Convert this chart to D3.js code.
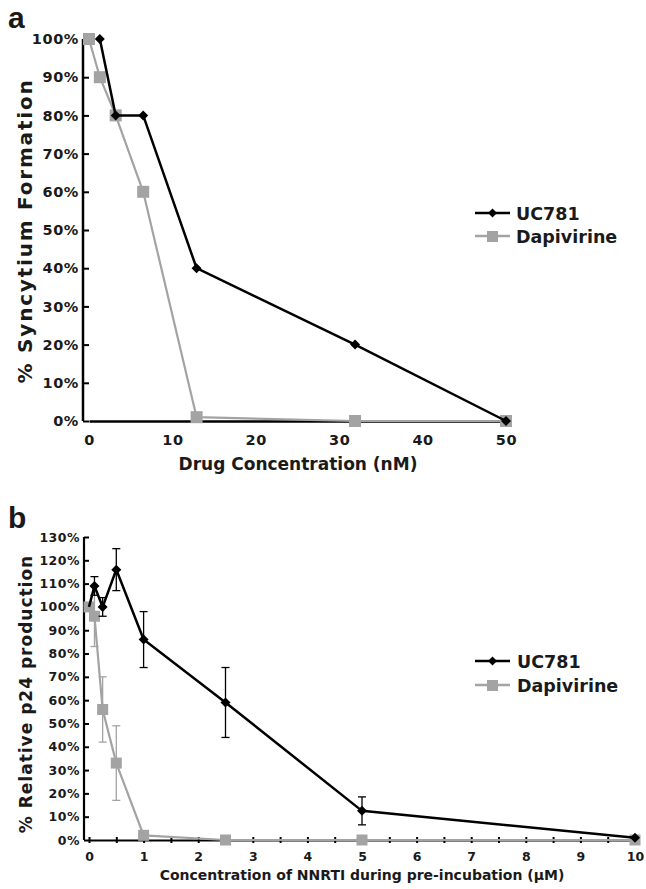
<!DOCTYPE html>
<html><head><meta charset="utf-8">
<script src="https://cdn.jsdelivr.net/npm/d3@7/dist/d3.min.js"></script>
<style>body{margin:0;background:#fff}svg{display:block}text{font-family:"DejaVu Sans",Verdana,sans-serif;font-weight:bold;fill:#1a1a1a}</style>
</head><body><svg id="c" width="646" height="889"></svg>
<script>
// Panel a data
const aX = [0, 1.3, 3.2, 6.5, 12.9, 31.9, 50];
const aUC781 = [null, 100, 80, 80, 40, 20, 0];
const aDapivirine = [100, 90, 80, 60, 1, 0, 0];
const aXTicks = [0, 10, 20, 30, 40, 50];
const aYTicks = [0, 10, 20, 30, 40, 50, 60, 70, 80, 90, 100];

// Panel b data
const bX = [0, 0.1, 0.25, 0.5, 1, 2.5, 5, 10];
const bUC781 = [100, 109, 100, 116, 86, 59, 12.5, 1];
const bUC781Err = [0, 4, 4, 9, 12, 15, 6, 0];
const bDapivirine = [100, 96, 56, 33, 2, 0, 0, 0];
const bDapivirineErr = [0, 13, 14, 16, 0, 0, 0, 0];
const bXTicks = [0, 1, 2, 3, 4, 5, 6, 7, 8, 9, 10];
const bYTicks = [0, 10, 20, 30, 40, 50, 60, 70, 80, 90, 100, 110, 120, 130];

const svg = d3.select("#c");
const BLACK = "#000", GRAY = "#a3a3a3";
const pct = d => d + "%";
const diamond = d3.symbol(d3.symbolSquare, 50);

// ---------- Panel a ----------
{
  const x = d3.scaleLinear().domain([0, 50]).range([89, 506]);
  const y = d3.scaleLinear().domain([0, 100]).range([421, 39]);
  const g = svg.append("g");
  svg.append("text").attr("x", 8).attr("y", 28).style("font-family","Liberation Sans, Arial, sans-serif").style("font-size","30px").text("a");
  const ya = g.append("g").attr("transform","translate(89,0)")
    .call(d3.axisLeft(y).tickValues(aYTicks).tickFormat(pct).tickSize(6).tickPadding(4));
  ya.select(".domain").attr("stroke", BLACK).attr("stroke-width", 2.5).attr("d","M-6,421V39");
  ya.selectAll(".tick line").attr("stroke-width", 2);
  ya.selectAll(".tick text").style("font-size","14.5px").style("letter-spacing","0.6px");
  const xa = g.append("g").attr("transform","translate(0,421)")
    .call(d3.axisBottom(x).tickValues(aXTicks).tickSize(0).tickPadding(14));
  xa.select(".domain").attr("stroke", BLACK).attr("stroke-width", 2.5);
  xa.selectAll(".tick text").style("font-size","14.5px").style("letter-spacing","0.6px");
  g.append("text").attr("x", 298).attr("y", 470).attr("text-anchor","middle").style("font-size","17px").text("Drug Concentration (nM)");
  g.append("text").attr("transform","translate(32,231) rotate(-90)").attr("text-anchor","middle").style("font-size","20px").style("letter-spacing","1.8px").text("% Syncytium Formation");

  const dA = aX.map((v,i)=>({x:v, u:aUC781[i], d:aDapivirine[i]}));
  const line = k => d3.line().defined(p=>p[k]!=null).x(p=>x(p.x)).y(p=>y(p[k]));
  g.append("path").datum(dA).attr("d", line("d")).attr("fill","none").attr("stroke",GRAY).attr("stroke-width",2.2);
  g.selectAll(".sqa").data(dA).join("rect").attr("x",p=>x(p.x)-6).attr("y",p=>y(p.d)-6).attr("width",12).attr("height",12).attr("fill",GRAY);
  g.append("path").datum(dA).attr("d", line("u")).attr("fill","none").attr("stroke",BLACK).attr("stroke-width",2.5);
  g.selectAll(".dia").data(dA.filter(p=>p.u!=null)).join("path")
    .attr("d", diamond).attr("transform",p=>`translate(${x(p.x)},${y(p.u)}) rotate(45)`).attr("fill",BLACK);

  // legend
  const lg = g.append("g");
  lg.append("line").attr("x1",475).attr("x2",510).attr("y1",213).attr("y2",213).attr("stroke",BLACK).attr("stroke-width",2.5);
  lg.append("path").attr("d", d3.symbol(d3.symbolSquare, 40)).attr("transform","translate(492.5,213) rotate(45)").attr("fill",BLACK);
  lg.append("text").attr("x",516).attr("y",219.5).style("font-size","17.5px").text("UC781");
  lg.append("line").attr("x1",475).attr("x2",510).attr("y1",236).attr("y2",236).attr("stroke",GRAY).attr("stroke-width",2.5);
  lg.append("rect").attr("x",487).attr("y",231).attr("width",11).attr("height",11).attr("fill",GRAY);
  lg.append("text").attr("x",516).attr("y",242.5).style("font-size","17.5px").text("Dapivirine");
}

// ---------- Panel b ----------
{
  const x = d3.scaleLinear().domain([0, 10]).range([89, 635]);
  const y = d3.scaleLinear().domain([0, 130]).range([840, 537]);
  const g = svg.append("g");
  svg.append("text").attr("x", 8).attr("y", 528).style("font-family","Liberation Sans, Arial, sans-serif").style("font-size","30px").text("b");
  const ya = g.append("g").attr("transform","translate(89,0)")
    .call(d3.axisLeft(y).tickValues(bYTicks).tickFormat(pct).tickSize(5).tickPadding(4));
  ya.select(".domain").attr("stroke", BLACK).attr("stroke-width", 2.2).attr("d","M-5,840V537");
  ya.selectAll(".tick line").attr("stroke-width", 2);
  ya.selectAll(".tick text").style("font-size","12.5px").style("letter-spacing","0.5px");
  const xa = g.append("g").attr("transform","translate(0,840)");
  xa.call(d3.axisBottom(x).tickValues(d3.range(0, 10.01, 0.5)).tickFormat(d=>Number.isInteger(d)?d:"").tickSizeInner(0).tickSizeOuter(0).tickPadding(12));
  xa.select(".domain").attr("stroke", BLACK).attr("stroke-width", 2.2);
  xa.selectAll(".tick line").attr("y1",-3).attr("y2",3).attr("stroke-width",2);
  xa.selectAll(".tick text").style("font-size","12.5px");
  g.append("text").attr("x", 362).attr("y", 880).attr("text-anchor","middle").style("font-size","14px").text("Concentration of NNRTI during pre-incubation (μM)");
  g.append("text").attr("transform","translate(32,694) rotate(-90)").attr("text-anchor","middle").style("font-size","17px").style("letter-spacing","1px").text("% Relative p24 production");

  const dB = bX.map((v,i)=>({x:v, u:bUC781[i], ue:bUC781Err[i], d:bDapivirine[i], de:bDapivirineErr[i]}));
  const eb = (k, ek, col, w) => {
    const gg = g.append("g").attr("stroke", col).attr("stroke-width", w);
    dB.filter(p=>p[ek]>0).forEach(p=>{
      gg.append("line").attr("x1",x(p.x)).attr("x2",x(p.x)).attr("y1",y(p[k]+p[ek])).attr("y2",y(p[k]-p[ek]));
      gg.append("line").attr("x1",x(p.x)-4).attr("x2",x(p.x)+4).attr("y1",y(p[k]+p[ek])).attr("y2",y(p[k]+p[ek]));
      gg.append("line").attr("x1",x(p.x)-4).attr("x2",x(p.x)+4).attr("y1",y(p[k]-p[ek])).attr("y2",y(p[k]-p[ek]));
    });
  };
  const line = k => d3.line().x(p=>x(p.x)).y(p=>y(p[k]));
  eb("d","de",GRAY,1.3);
  g.append("path").datum(dB).attr("d", line("d")).attr("fill","none").attr("stroke",GRAY).attr("stroke-width",2.2);
  g.selectAll(".sqb").data(dB).join("rect").attr("x",p=>x(p.x)-5.5).attr("y",p=>y(p.d)-5.5).attr("width",11).attr("height",11).attr("fill",GRAY);
  eb("u","ue",BLACK,1.3);
  g.append("path").datum(dB).attr("d", line("u")).attr("fill","none").attr("stroke",BLACK).attr("stroke-width",2.5);
  g.selectAll(".diab").data(dB.slice(1)).join("path")
    .attr("d", diamond).attr("transform",p=>`translate(${x(p.x)},${y(p.u)}) rotate(45)`).attr("fill",BLACK);

  const lg = g.append("g");
  lg.append("line").attr("x1",475).attr("x2",510).attr("y1",661).attr("y2",661).attr("stroke",BLACK).attr("stroke-width",2.5);
  lg.append("path").attr("d", d3.symbol(d3.symbolSquare, 40)).attr("transform","translate(492.5,661) rotate(45)").attr("fill",BLACK);
  lg.append("text").attr("x",517).attr("y",667.5).style("font-size","17.5px").text("UC781");
  lg.append("line").attr("x1",475).attr("x2",510).attr("y1",685).attr("y2",685).attr("stroke",GRAY).attr("stroke-width",2.5);
  lg.append("rect").attr("x",487).attr("y",680).attr("width",11).attr("height",11).attr("fill",GRAY);
  lg.append("text").attr("x",517).attr("y",691.5).style("font-size","17.5px").text("Dapivirine");
}
</script></body></html>
